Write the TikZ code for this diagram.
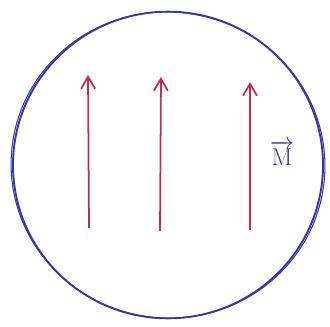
\documentclass[tikz,border=0pt]{standalone}
\usepackage{amsmath}
\usepackage{tikz}
\usetikzlibrary{arrows.meta,calc,positioning,shapes.geometric}
\definecolor{inkblue}{rgb}{0.22,0.22,0.60}
\definecolor{inkred}{rgb}{0.74,0.18,0.30}
\tikzset{
  muestra/.style={
    ellipse,
    draw=inkblue,
    line width=1.6pt,
    minimum width=9.3cm,
    minimum height=9.2cm,
    inner sep=0pt
  },
  momento/.style={
    -{Straight Barb[length=3.6mm,width=4.2mm,line width=1.5pt]},
    line width=1.5pt,
    inkred
  },
  etiqueta/.style={
    text=inkblue,
    font=\fontsize{22}{24}\selectfont
  }
}
\begin{document}
\begin{tikzpicture}[x=0.03cm,y=-0.03cm]
\useasboundingbox (0,0) rectangle (330,326);
\node[muestra] (disco) at (168,165) {};
\draw[inkblue,line width=.9pt,rotate around={-8:(168,165)}] (168,165) ellipse (157 and 153);
\coordinate (a1) at (89,228);
\coordinate (b1) at (88,75);
\coordinate (a2) at (160,231);
\coordinate (b2) at (161,77);
\coordinate (a3) at (250,230);
\coordinate (b3) at (250,82);
\draw[momento] (a1) -- (b1);
\draw[momento] (a2) -- (b2);
\draw[momento] (a3) -- (b3);
\node[etiqueta] (m) at (282,153) {$\overrightarrow{\mathrm{M}}$};
\end{tikzpicture}
\end{document}
